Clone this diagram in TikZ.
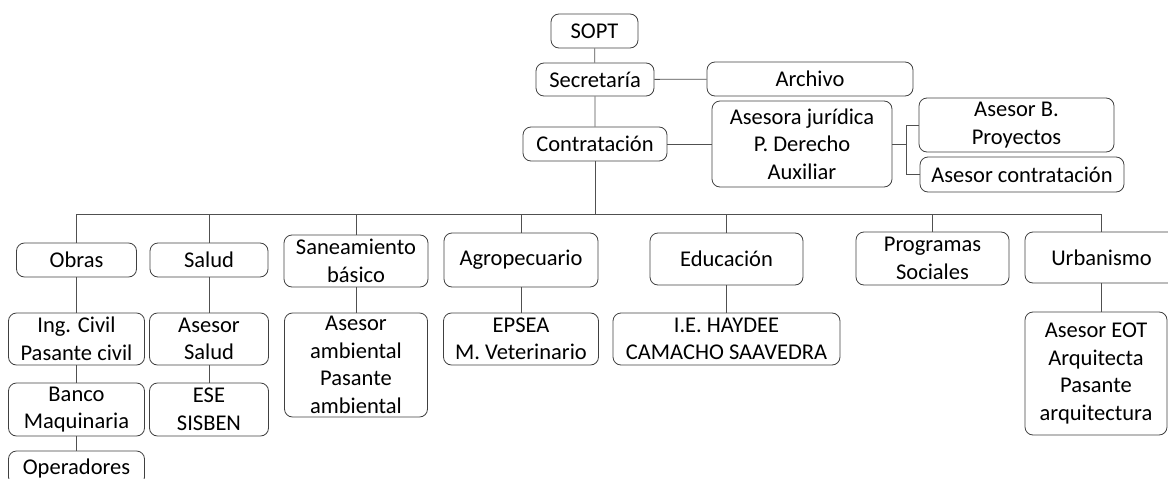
\documentclass[tikz,border=0pt]{standalone}
\usepackage{fontspec}
\setmainfont{Carlito}
\usetikzlibrary{positioning,calc}
\definecolor{boxgray}{RGB}{64,64,64}
\definecolor{linegray}{RGB}{80,80,80}

\begin{document}
\begin{tikzpicture}[x=1pt,y=-1pt,
    orgbox/.style={draw=boxgray, line width=0.8pt, rounded corners=8pt, align=center,
        inner sep=0pt, font=\fontsize{22.5}{27.5}\selectfont},
    link/.style={draw=linegray, line width=0.8pt}]
    \useasboundingbox (0,0) rectangle (1168,479);
    \clip (0,0) rectangle (1168,479);
    % Direction and support staff
    \node[orgbox, minimum width=87pt, minimum height=34pt] (sopt) at (594.5,31) {SOPT};
    \node[orgbox, minimum width=118pt, minimum height=33pt] (secr) at (595,79.5) {Secretaría};
    \node[orgbox, minimum width=206pt, minimum height=34pt] (archivo) at (810,79) {Archivo};
    \node[orgbox, minimum width=144pt, minimum height=34pt] (contr) at (595,144) {Contratación};
    \node[orgbox, minimum width=180pt, minimum height=86pt] (asesora) at (802,144) {Asesora jurídica\\P. Derecho\\Auxiliar};
    \node[orgbox, minimum width=195pt, minimum height=54pt] (asesorb) at (1016.5,125) {Asesor B.\\Proyectos};
    \node[orgbox, minimum width=204pt, minimum height=35pt] (asecont) at (1022,174.5) {Asesor contratación};
    % Areas
    \node[orgbox, minimum width=120pt, minimum height=34pt] (obras) at (76.5,260) {Obras};
    \node[orgbox, minimum width=118pt, minimum height=34pt] (salud) at (209,260) {Salud};
    \node[orgbox, minimum width=144pt, minimum height=52pt] (saneam) at (356,261) {Saneamiento\\básico};
    \node[orgbox, minimum width=154pt, minimum height=54pt] (agro) at (521,260) {Agropecuario};
    \node[orgbox, minimum width=153pt, minimum height=52pt] (educ) at (726.5,259) {Educación};
    \node[orgbox, minimum width=153pt, minimum height=53pt] (prog) at (932.5,258.5) {Programas\\Sociales};
    \node[orgbox, minimum width=153pt, minimum height=51pt] (urban) at (1101.5,257.5) {Urbanismo};
    % Staff of each area
    \node[orgbox, minimum width=136pt, minimum height=52pt] (ingciv) at (76.5,339) {Ing. Civil\\Pasante civil};
    \node[orgbox, minimum width=136pt, minimum height=53pt] (banco) at (76.5,409.5) {Banco\\Maquinaria};
    \node[orgbox, minimum width=136pt, minimum height=34pt] (oper) at (76.5,468) {Operadores};
    \node[orgbox, minimum width=119pt, minimum height=52pt] (asesal) at (209,339) {Asesor\\Salud};
    \node[orgbox, minimum width=119pt, minimum height=53pt] (ese) at (209,409.5) {ESE\\SISBEN};
    \node[orgbox, minimum width=143pt, minimum height=104pt] (ambient) at (356,365) {Asesor\\ambiental\\Pasante\\ambiental};
    \node[orgbox, minimum width=155pt, minimum height=52pt] (epsea) at (521,339) {EPSEA\\M. Veterinario};
    \node[orgbox, minimum width=227pt, minimum height=52pt] (iehay) at (726.5,339) {I.E. HAYDEE\\CAMACHO SAAVEDRA};
    \node[orgbox, minimum width=142pt, minimum height=123pt] (eot) at (1096,373.5) {Asesor EOT\\Arquitecta\\Pasante\\arquitectura};
    % Connectors
    \coordinate (bar) at (595,214);
    \draw[link] (sopt) -- (secr) -- (contr);
    \draw[link] (contr) -- (bar);
    \draw[link] (secr) -- (archivo);
    \draw[link] (contr) -- (asesora);
    \draw[link] (asesora.east) -- ++(14,0) |- (asesorb.west);
    \draw[link] (asesora.east) -- ++(14,0) |- (asecont.west);
    \foreach \area in {obras,salud,saneam,agro,educ,prog,urban}
        \draw[link] (\area.north) |- (bar);
    \draw[link] (obras) -- (ingciv) -- (banco) -- (oper);
    \draw[link] (salud) -- (asesal) -- (ese);
    \draw[link] (saneam) -- (ambient);
    \draw[link] (agro) -- (epsea);
    \draw[link] (educ) -- (iehay);
    \draw[link] (urban.south) -- (urban.south |- eot.north);
\end{tikzpicture}
\end{document}
